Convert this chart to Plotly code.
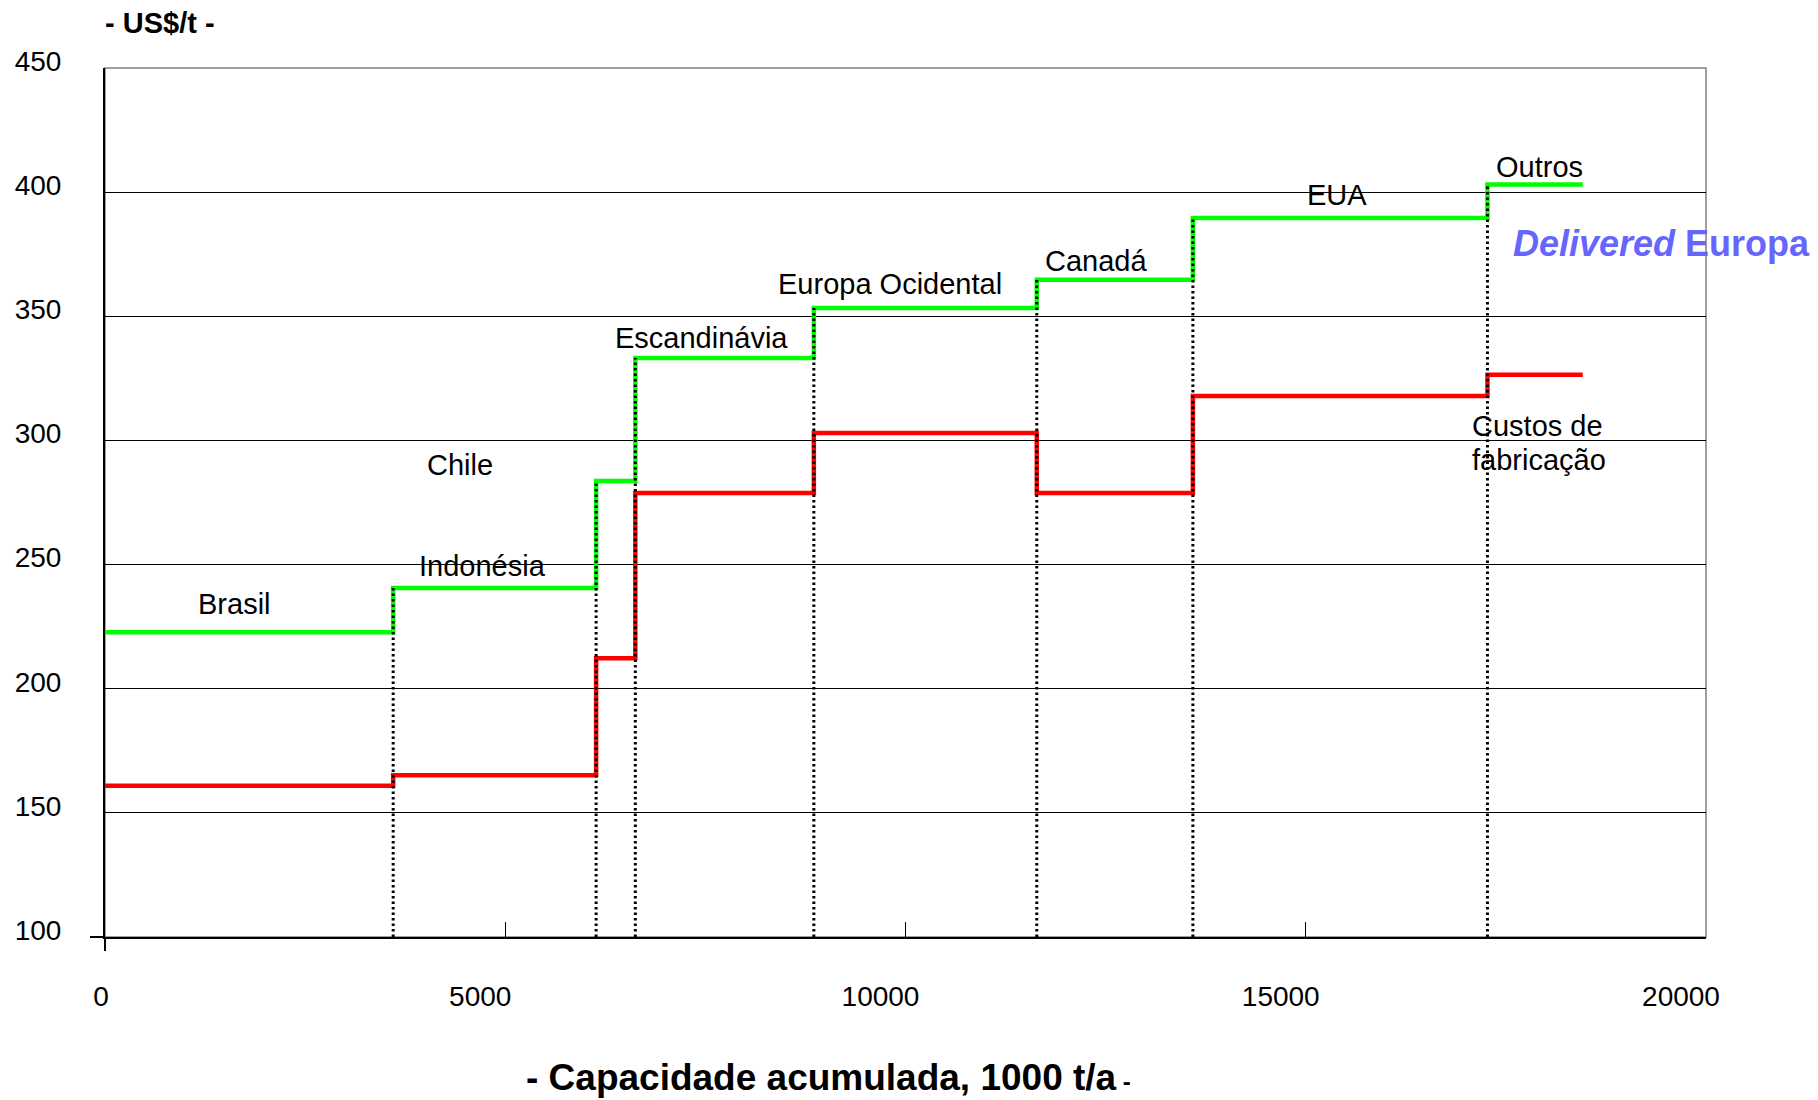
import plotly.graph_objects as go

# ---- data ----
regions = ["Brasil", "Indonésia", "Chile", "Escandinávia", "Europa Ocidental", "Canadá", "EUA", "Outros"]
cap_start = [0, 3600, 6135, 6625, 8855, 11640, 13590, 17270]   # cumulative capacity where each region starts
cap_end = 18460                                                 # end of last step
delivered = [222.7, 240.6, 283.7, 333.2, 353.3, 364.7, 389.6, 403.1]   # Delivered Europa (green)
custos = [160.9, 165.1, 212.3, 278.8, 303.0, 278.8, 317.9, 326.5]      # Custos de fabricação (red)
x_ticks = [0, 5000, 10000, 15000, 20000]
# the first label carries leading spaces so it sits next to the axis as in the reference
x_tick_labels = ["\u2003\u20020", "5000", "10000", "15000", "20000"]
y_ticks = [100, 150, 200, 250, 300, 350, 400, 450]
y_tick_labels = ["100", "150", "200", "250", "300", "350", "400", "450"]

# label placement (data coords) for region names
label_pos = {
    "Brasil": (1620, 234.2),
    "Indonésia": (4713, 249.5),
    "Chile": (4438, 290.2),
    "Escandinávia": (7450, 341.4),
    "Europa Ocidental": (9802, 363.1),
    "Canadá": (12380, 372.1),
    "EUA": (15386, 398.7),
    "Outros": (17923, 410.2),
}

FONT = "Liberation Sans, Arial, sans-serif"
LABEL_SIZE = 29

fig = go.Figure()

xs = cap_start + [cap_end]
fig.add_trace(go.Scatter(x=xs, y=delivered + [delivered[-1]], mode="lines",
                         line=dict(color="#00FF00", width=4.5, shape="hv"),
                         hoverinfo="skip", showlegend=False))
fig.add_trace(go.Scatter(x=xs, y=custos + [custos[-1]], mode="lines",
                         line=dict(color="#FF0000", width=4.5, shape="hv"),
                         hoverinfo="skip", showlegend=False))

# dotted separators from the axis up to the delivered level at each step
dx, dy = [], []
for xv, yv in zip(cap_start[1:], delivered[1:]):
    dx += [xv, xv, None]
    dy += [y_ticks[0], yv, None]
fig.add_trace(go.Scatter(x=dx, y=dy, mode="lines",
                         line=dict(color="black", width=3, dash="2.5px,3px"),
                         hoverinfo="skip", showlegend=False))

annotations = []
for name in regions:
    x, y = label_pos[name]
    annotations.append(dict(x=x, y=y, xref="x", yref="y", text=name, showarrow=False,
                            xanchor="center", yanchor="middle",
                            font=dict(family=FONT, size=LABEL_SIZE, color="black")))
annotations.append(dict(x=17052, y=305.9, xref="x", yref="y", text="Custos de", showarrow=False,
                        xanchor="left", yanchor="middle",
                        font=dict(family=FONT, size=LABEL_SIZE, color="black")))
annotations.append(dict(x=17052, y=292.2, xref="x", yref="y", text="fabricação", showarrow=False,
                        xanchor="left", yanchor="middle",
                        font=dict(family=FONT, size=LABEL_SIZE, color="black")))
annotations.append(dict(x=19438, y=379.5, xref="x", yref="y", text="<b><i>Delivered</i> Europa</b>",
                        showarrow=False, xanchor="center", yanchor="middle",
                        font=dict(family=FONT, size=36, color="#6666FF")))
annotations.append(dict(x=0.0345, y=1.052, xref="paper", yref="paper", text="<b>- US$/t -</b>",
                        showarrow=False, xanchor="center", yanchor="middle",
                        font=dict(family=FONT, size=29, color="black")))
annotations.append(dict(x=0.452, y=-0.162, xref="paper", yref="paper",
                        text="<b>- Capacidade acumulada, 1000 t/a</b><span style='font-size:24px'><b> -</b></span>",
                        showarrow=False, xanchor="center", yanchor="middle",
                        font=dict(family=FONT, size=37, color="black")))

shapes = [
    dict(type="rect", xref="paper", yref="paper", x0=0, x1=1, y0=0, y1=1,
         line=dict(color="rgb(128,128,128)", width=1.5), layer="between"),
    # axis cross extensions at the origin
    dict(type="line", xref="paper", yref="paper", xsizemode="pixel", xanchor=0,
         x0=-15, x1=0, y0=0, y1=0, line=dict(color="black", width=2)),
    dict(type="line", xref="paper", yref="paper", ysizemode="pixel", yanchor=0,
         x0=0, x1=0, y0=-14, y1=0, line=dict(color="black", width=2)),
]

# the page body adds an 8px offset, so the figure is sized/margined to compensate
fig.update_layout(
    width=1810, height=1092,
    margin=dict(l=97, r=112, t=60, b=163, autoexpand=False),
    paper_bgcolor="white", plot_bgcolor="white",
    font=dict(family=FONT, color="black"),
    showlegend=False,
    annotations=annotations,
    shapes=shapes,
)
fig.update_xaxes(range=[0, 20000], tickvals=x_ticks, ticktext=x_tick_labels, ticks="inside",
                 ticklen=15, tickwidth=1, automargin=False,
                 tickcolor="black", showline=True, linecolor="black", linewidth=2,
                 showgrid=False, zeroline=False, tickfont=dict(family=FONT, size=28, color="black"),
                 ticklabelstandoff=33, ticklabelshift=-25)
fig.update_yaxes(range=[100, 450], tickvals=y_ticks, ticktext=y_tick_labels, ticks="inside",
                 ticklen=15, tickwidth=1, automargin=False,
                 tickcolor="black", showline=True, linecolor="black", linewidth=2,
                 showgrid=True, gridcolor="black", gridwidth=1, zeroline=False,
                 tickfont=dict(family=FONT, size=28, color="black"),
                 ticklabelstandoff=36, ticklabelshift=-7)

fig.write_html("out.html")
